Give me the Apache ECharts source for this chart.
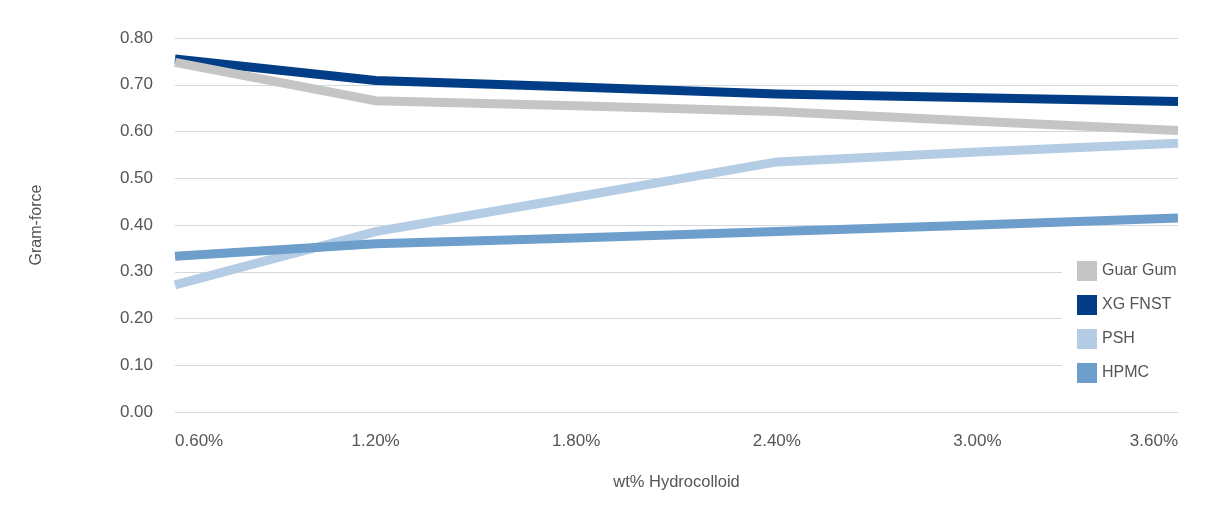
<!DOCTYPE html>
<html>
<head>
<meta charset="utf-8">
<script src="https://cdn.jsdelivr.net/npm/echarts@6/dist/echarts.min.js"></script>
<style>html,body{margin:0;padding:0;background:#fff;}#c{width:1221px;height:509px;}</style>
</head>
<body>
<div id="c"></div>
<script>
var xValues = [0.6, 1.2, 1.8, 2.4, 3.0, 3.6];
var seriesNames = ['Guar Gum', 'XG FNST', 'PSH', 'HPMC'];
var guarGum = [0.748, 0.666, 0.655, 0.643, 0.622, 0.602];
var xgFnst = [0.755, 0.709, 0.695, 0.680, 0.672, 0.664];
var psh = [0.272, 0.386, 0.460, 0.535, 0.556, 0.575];
var hpmc = [0.333, 0.360, 0.372, 0.386, 0.400, 0.415];
var colors = ['#c5c5c5', '#023e87', '#b4cde4', '#6e9ecb'];
var zOrder = [3, 2, 2, 3];

var dataSets = [guarGum, xgFnst, psh, hpmc];
function pairs(vals) { return xValues.map(function (x, i) { return [x, vals[i]]; }); }

var chart = echarts.init(document.getElementById('c'));
var textColor = '#555555';
var font = 'Liberation Sans';
chart.setOption({
  animation: false,
  grid: { left: 175, right: 43, top: 38, bottom: 97 },
  legend: {
    orient: 'vertical',
    left: 1062,
    top: 251,
    padding: [10, 40, 10, 15],
    backgroundColor: '#ffffff',
    itemWidth: 20,
    itemHeight: 20,
    itemGap: 14,
    icon: 'rect',
    textStyle: { color: textColor, fontFamily: font, fontSize: 16 },
    data: seriesNames
  },
  xAxis: {
    type: 'value',
    min: 0.6, max: 3.6, interval: 0.6,
    name: 'wt% Hydrocolloid',
    nameLocation: 'middle',
    nameGap: 62,
    nameTextStyle: { color: textColor, fontFamily: font, fontSize: 16.5 },
    axisLine: { show: false },
    axisTick: { show: false },
    splitLine: { show: false },
    axisLabel: {
      color: textColor, fontFamily: font, fontSize: 17, margin: 21,
      alignMinLabel: 'left', alignMaxLabel: 'right',
      formatter: function (v) { return v.toFixed(2) + '%'; }
    }
  },
  yAxis: {
    type: 'value',
    min: 0, max: 0.8, interval: 0.1,
    name: 'Gram-force',
    nameLocation: 'middle',
    nameGap: 130,
    nameTextStyle: { color: textColor, fontFamily: font, fontSize: 16 },
    axisLine: { show: false },
    axisTick: { show: false },
    splitLine: { lineStyle: { color: '#d3d9df', width: 1 } },
    axisLabel: {
      color: textColor, fontFamily: font, fontSize: 17, margin: 22,
      formatter: function (v) { return v.toFixed(2); }
    }
  },
  series: seriesNames.map(function (n, i) {
    return {
      name: n, type: 'line', data: pairs(dataSets[i]),
      showSymbol: false, symbol: 'none',
      color: colors[i],
      lineStyle: { width: 9, color: colors[i], join: 'miter', cap: 'butt' },
      z: zOrder[i]
    };
  })
});
</script>
</body>
</html>
